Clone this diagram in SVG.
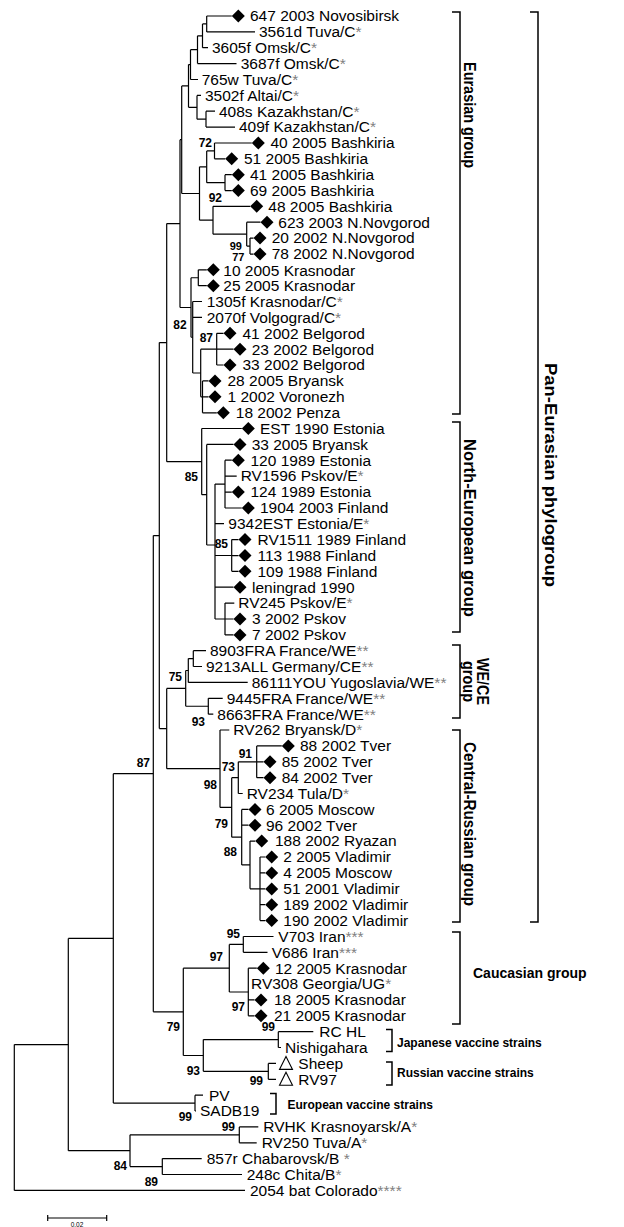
<svg xmlns="http://www.w3.org/2000/svg" xmlns:xlink="http://www.w3.org/1999/xlink" width="624" height="1227" viewBox="0 0 624 1227">
<style>
text{font-family:"Liberation Sans",Arial,sans-serif;fill:#000}
.t{font-size:15.5px}
.s{fill:#808080}
.b{font-size:12px;font-weight:bold;text-anchor:end}
.bs{font-size:11px}
.g{font-size:17px;font-weight:bold}
.v{font-size:12px;font-weight:bold}
.e{fill:none;stroke:#000;stroke-width:1.2}
.br{fill:none;stroke:#000;stroke-width:1.5}
</style>
<defs>
<path id="dia" d="M0,-6.5L6.5,0L0,6.5L-6.5,0Z" fill="#000"/>
<path id="tri" d="M0,-7L6.5,6L-6.5,6Z" fill="none" stroke="#000" stroke-width="1.1"/>
</defs>
<rect width="624" height="1227" fill="#fff"/>
<g id="connectors" class="e">
<path d="M14.3,1044.55V1190.4M14.3,1044.55H68.3M14.3,1190.4H245"/>
<path d="M68.3,938.4V1150.7M68.3,938.4H113.3M68.3,1150.7H130"/>
<path d="M113.3,773.7V1103.1M113.3,773.7H153.3M113.3,1103.1H195"/>
<path d="M195,1095.2V1111M195,1095.2H203M195,1111H196"/>
<path d="M130,1134.85V1166.55M130,1134.85H239.3M130,1166.55H162.3"/>
<path d="M239.3,1126.9V1142.8M239.3,1126.9H258.3M239.3,1142.8H256.7"/>
<path d="M162.3,1158.6V1174.5M162.3,1158.6H201.7M162.3,1174.5H242"/>
<path d="M153.3,535.6V1011.85M153.3,535.6H159.3M153.3,1011.85H183.3"/>
<path d="M183.3,968.2V1055.5M183.3,968.2H229.3M183.3,1055.5H203.3"/>
<path d="M229.3,944.4V992M229.3,944.4H243.3M229.3,992H248.3"/>
<path d="M243.3,936.5V952.3M243.3,936.5H273.5M243.3,952.3H267.5"/>
<path d="M248.3,968.2V1015.8M248.3,968.2H256.8M248.3,999.9H254.5M248.3,1015.8H254.5"/>
<path d="M203.3,1039.6V1071.35M203.3,1039.6H278.3M203.3,1071.35H268.3"/>
<path d="M278.3,1031.7V1047.5M278.3,1031.7H313.3M278.3,1047.5H281"/>
<path d="M268.3,1063.4V1079.3M268.3,1063.4H276M268.3,1079.3H276"/>
<path d="M159.3,342.6V728.6M159.3,342.6H166.7M159.3,728.6H166.7"/>
<path d="M166.7,223.6V461.65M166.7,223.6H180M166.7,461.65H201.7"/>
<path d="M180,139.7V307.5M180,139.7H181.7M180,307.5H191"/>
<path d="M181.7,85.95V193.5M181.7,85.95H188.5M181.7,193.5H199.5"/>
<path d="M188.5,64.6V107.3M188.5,64.6H190.5M188.5,107.3H197"/>
<path d="M190.5,49.7V79.5M190.5,49.7H197.5M190.5,79.5H198"/>
<path d="M197.5,35.8V63.6M197.5,35.8H202.5M197.5,63.6H236.5"/>
<path d="M202.5,23.95V47.7M202.5,23.95H206.7M202.5,47.7H208"/>
<path d="M206.7,16V31.9M206.7,16H231.8M206.7,31.9H255"/>
<path d="M197,95.4V119.15M197,95.4H201M197,119.15H206"/>
<path d="M206,111.2V127.1M206,111.2H215M206,127.1H235"/>
<path d="M199.5,166.8V220.2M199.5,166.8H206.7M199.5,220.2H213"/>
<path d="M206.7,150.9V182.65M206.7,150.9H214.5M206.7,182.65H225"/>
<path d="M214.5,143V158.8M214.5,143H251.8M214.5,158.8H225.2"/>
<path d="M225,174.7V190.6M225,174.7H231.8M225,190.6H231.8"/>
<path d="M213,206.3V234.15M213,206.3H250.2M213,234.15H246.7"/>
<path d="M246.7,222.2V246.1M246.7,222.2H260.5M246.7,246.1H250"/>
<path d="M250,238.1V254.1M250,238.1H253.5M250,254.1H253.5"/>
<path d="M191,277.75V337.25M191,277.75H198.3M191,337.25H192.7"/>
<path d="M198.3,269.8V285.7M198.3,269.8H206.8M198.3,285.7H206.8"/>
<path d="M192.7,301.5V373M192.7,301.5H202M192.7,317.4H202M192.7,373H200.7"/>
<path d="M200.7,349.15V396.85M200.7,349.15H216.7M200.7,396.85H202.5"/>
<path d="M216.7,333.3V365M216.7,333.3H223.5M216.7,349.2H233.5M216.7,365H223.5"/>
<path d="M202.5,380.9V412.8M202.5,380.9H208.5M202.5,396.8H208.5M202.5,412.8H216.8"/>
<path d="M201.7,428.5V494.7M201.7,428.5H241.8M201.7,494.7H206.7"/>
<path d="M206.7,444.4V545M206.7,444.4H233.5M206.7,545H215"/>
<path d="M215,484.1V619M215,484.1H225M215,523.7H224M215,555.5H231.7M215,587.2H233.5M215,619H225"/>
<path d="M225,460.2V508M225,460.2H231.8M225,476.1H236.7M225,492.1H231.8M225,508H241.8"/>
<path d="M231.7,539.6V571.3M231.7,539.6H238.5M231.7,555.6H238.5M231.7,571.3H238.5"/>
<path d="M225,603.1V634.9M225,603.1H234.3M225,619H233.5M225,634.9H233.5"/>
<path d="M166.7,688.4V768.7M166.7,688.4H185.7M166.7,768.7H220"/>
<path d="M185.7,670.5V706.25M185.7,670.5H188.3M185.7,706.25H208.3"/>
<path d="M188.3,658.6V682.4M188.3,658.6H193.3M188.3,682.4H247.7"/>
<path d="M193.3,650.7V666.5M193.3,650.7H206M193.3,666.5H202"/>
<path d="M208.3,698.3V714.2M208.3,698.3H222.7M208.3,714.2H213.3"/>
<path d="M220,730V807.4M220,730H229.3M220,807.4H231.7"/>
<path d="M231.7,777.65V837.2M231.7,777.65H238.3M231.7,837.2H241.7"/>
<path d="M238.3,761.8V793.5M238.3,761.8H256.7M238.3,793.5H242.7"/>
<path d="M256.7,745.9V777.7M256.7,745.9H281.8M256.7,761.8H263.5M256.7,777.7H263.5"/>
<path d="M241.7,809.4V864.95M241.7,809.4H248.5M241.7,825.2H248.5M241.7,864.95H250"/>
<path d="M250,841.1V888.8M250,841.1H255.2M250,888.8H260"/>
<path d="M260,857V920.6M260,857H265.2M260,872.9H265.2M260,888.9H265.2M260,904.7H265.2M260,920.6H265.2"/>
</g>
<g id="leaves" class="t">
<g id="n647"><use href="#dia" x="238.3" y="16"/><text class="t" x="250" y="21.3">647 2003 Novosibirsk</text></g>
<g id="n3561d"><text class="t" x="259" y="37.2">3561d Tuva/C<tspan class="s">*</tspan></text></g>
<g id="n3605f"><text class="t" x="212" y="53">3605f Omsk/C<tspan class="s">*</tspan></text></g>
<g id="n3687f"><text class="t" x="240.7" y="68.9">3687f Omsk/C<tspan class="s">*</tspan></text></g>
<g id="n765w"><text class="t" x="201.7" y="84.8">765w Tuva/C<tspan class="s">*</tspan></text></g>
<g id="n3502f"><text class="t" x="205" y="100.7">3502f Altai/C<tspan class="s">*</tspan></text></g>
<g id="n408s"><text class="t" x="219" y="116.5">408s Kazakhstan/C<tspan class="s">*</tspan></text></g>
<g id="n409f"><text class="t" x="239" y="132.4">409f Kazakhstan/C<tspan class="s">*</tspan></text></g>
<g id="n40b"><use href="#dia" x="258.3" y="143"/><text class="t" x="270.5" y="148.3">40 2005 Bashkiria</text></g>
<g id="n51b"><use href="#dia" x="231.7" y="158.8"/><text class="t" x="244" y="164.1">51 2005 Bashkiria</text></g>
<g id="n41b"><use href="#dia" x="238.3" y="174.7"/><text class="t" x="250" y="180">41 2005 Bashkiria</text></g>
<g id="n69b"><use href="#dia" x="238.3" y="190.6"/><text class="t" x="250" y="195.9">69 2005 Bashkiria</text></g>
<g id="n48b"><use href="#dia" x="256.7" y="206.3"/><text class="t" x="268.3" y="211.6">48 2005 Bashkiria</text></g>
<g id="n623"><use href="#dia" x="267" y="222.2"/><text class="t" x="278.3" y="227.5">623 2003 N.Novgorod</text></g>
<g id="n20nn"><use href="#dia" x="260" y="238.1"/><text class="t" x="271.7" y="243.4">20 2002 N.Novgorod</text></g>
<g id="n78nn"><use href="#dia" x="260" y="254.1"/><text class="t" x="271.7" y="259.4">78 2002 N.Novgorod</text></g>
<g id="n10k"><use href="#dia" x="213.3" y="269.8"/><text class="t" x="223.3" y="275.6">10 2005 Krasnodar</text></g>
<g id="n25k"><use href="#dia" x="213.3" y="285.7"/><text class="t" x="223.3" y="291">25 2005 Krasnodar</text></g>
<g id="n1305f"><text class="t" x="206.7" y="306.8">1305f Krasnodar/C<tspan class="s">*</tspan></text></g>
<g id="n2070f"><text class="t" x="206.7" y="322.7">2070f Volgograd/C<tspan class="s">*</tspan></text></g>
<g id="n41bel"><use href="#dia" x="230" y="333.3"/><text class="t" x="242.5" y="338.6">41 2002 Belgorod</text></g>
<g id="n23bel"><use href="#dia" x="240" y="349.2"/><text class="t" x="251.7" y="354.5">23 2002 Belgorod</text></g>
<g id="n33bel"><use href="#dia" x="230" y="365"/><text class="t" x="242.5" y="370.3">33 2002 Belgorod</text></g>
<g id="n28br"><use href="#dia" x="215" y="380.9"/><text class="t" x="227.5" y="386.2">28 2005 Bryansk</text></g>
<g id="n1vor"><use href="#dia" x="215" y="396.8"/><text class="t" x="227.5" y="402.1">1 2002 Voronezh</text></g>
<g id="n18pen"><use href="#dia" x="223.3" y="412.8"/><text class="t" x="235.8" y="418.1">18 2002 Penza</text></g>
<g id="nEST"><use href="#dia" x="248.3" y="428.5"/><text class="t" x="260" y="433.8">EST 1990 Estonia</text></g>
<g id="n33br"><use href="#dia" x="240" y="444.4"/><text class="t" x="251.7" y="449.7">33 2005 Bryansk</text></g>
<g id="n120e"><use href="#dia" x="238.3" y="460.2"/><text class="t" x="250.5" y="465.5">120 1989 Estonia</text></g>
<g id="nRV1596"><text class="t" x="240.7" y="481.4">RV1596 Pskov/E<tspan class="s">*</tspan></text></g>
<g id="n124e"><use href="#dia" x="238.3" y="492.1"/><text class="t" x="250.5" y="497.4">124 1989 Estonia</text></g>
<g id="n1904"><use href="#dia" x="248.3" y="508"/><text class="t" x="260" y="513.3">1904 2003 Finland</text></g>
<g id="n9342"><text class="t" x="228.3" y="529">9342EST Estonia/E<tspan class="s">*</tspan></text></g>
<g id="nRV1511"><use href="#dia" x="245" y="539.6"/><text class="t" x="257.5" y="544.9">RV1511 1989 Finland</text></g>
<g id="n113f"><use href="#dia" x="245" y="555.6"/><text class="t" x="257.5" y="560.9">113 1988 Finland</text></g>
<g id="n109f"><use href="#dia" x="245" y="571.3"/><text class="t" x="257.5" y="576.6">109 1988 Finland</text></g>
<g id="nlen"><use href="#dia" x="240" y="587.2"/><text class="t" x="252" y="592.5">leningrad 1990</text></g>
<g id="nRV245"><text class="t" x="238.3" y="608.4">RV245 Pskov/E<tspan class="s">*</tspan></text></g>
<g id="n3ps"><use href="#dia" x="240" y="619"/><text class="t" x="252" y="624.3">3 2002 Pskov</text></g>
<g id="n7ps"><use href="#dia" x="240" y="634.9"/><text class="t" x="252" y="640.2">7 2002 Pskov</text></g>
<g id="n8903"><text class="t" x="210" y="656">8903FRA France/WE<tspan class="s">**</tspan></text></g>
<g id="n9213"><text class="t" x="206" y="671.8">9213ALL Germany/CE<tspan class="s">**</tspan></text></g>
<g id="n86111"><text class="t" x="251.7" y="687.7">86111YOU Yugoslavia/WE<tspan class="s">**</tspan></text></g>
<g id="n9445"><text class="t" x="226.7" y="703.6">9445FRA France/WE<tspan class="s">**</tspan></text></g>
<g id="n8663"><text class="t" x="217.3" y="719.5">8663FRA France/WE<tspan class="s">**</tspan></text></g>
<g id="nRV262"><text class="t" x="233.3" y="735.3">RV262 Bryansk/D<tspan class="s">*</tspan></text></g>
<g id="n88t"><use href="#dia" x="288.3" y="745.9"/><text class="t" x="300" y="751.2">88 2002 Tver</text></g>
<g id="n85t"><use href="#dia" x="270" y="761.8"/><text class="t" x="281.7" y="767.1">85 2002 Tver</text></g>
<g id="n84t"><use href="#dia" x="270" y="777.7"/><text class="t" x="281.7" y="783">84 2002 Tver</text></g>
<g id="nRV234"><text class="t" x="246.7" y="798.8">RV234 Tula/D<tspan class="s">*</tspan></text></g>
<g id="n6m"><use href="#dia" x="255" y="809.4"/><text class="t" x="266" y="814.7">6 2005 Moscow</text></g>
<g id="n96t"><use href="#dia" x="255" y="825.2"/><text class="t" x="266" y="830.5">96 2002 Tver</text></g>
<g id="n188r"><use href="#dia" x="261.7" y="841.1"/><text class="t" x="275" y="846.4">188 2002 Ryazan</text></g>
<g id="n2v"><use href="#dia" x="271.7" y="857"/><text class="t" x="283.3" y="862.3">2 2005 Vladimir</text></g>
<g id="n4m"><use href="#dia" x="271.7" y="872.9"/><text class="t" x="283.3" y="878.2">4 2005 Moscow</text></g>
<g id="n51v"><use href="#dia" x="271.7" y="888.9"/><text class="t" x="283.3" y="894.2">51 2001 Vladimir</text></g>
<g id="n189v"><use href="#dia" x="271.7" y="904.7"/><text class="t" x="283.3" y="910">189 2002 Vladimir</text></g>
<g id="n190v"><use href="#dia" x="271.7" y="920.6"/><text class="t" x="283.3" y="925.9">190 2002 Vladimir</text></g>
<g id="nV703"><text class="t" x="278.3" y="941.8">V703 Iran<tspan class="s">***</tspan></text></g>
<g id="nV686"><text class="t" x="271.7" y="957.6">V686 Iran<tspan class="s">***</tspan></text></g>
<g id="n12k"><use href="#dia" x="263.3" y="968.2"/><text class="t" x="275" y="973.5">12 2005 Krasnodar</text></g>
<g id="nRV308"><text class="t" x="251" y="989.4">RV308 Georgia/UG<tspan class="s">*</tspan></text></g>
<g id="n18k"><use href="#dia" x="261" y="999.9"/><text class="t" x="274" y="1005.2">18 2005 Krasnodar</text></g>
<g id="n21k"><use href="#dia" x="261" y="1015.8"/><text class="t" x="274" y="1021.1">21 2005 Krasnodar</text></g>
<g id="nRCHL"><text class="t" x="319.3" y="1037">RC HL</text></g>
<g id="nNish"><text class="t" x="285" y="1052.8">Nishigahara</text></g>
<g id="nSheep"><use href="#tri" x="286" y="1063.4"/><text class="t" x="298.3" y="1068.7">Sheep</text></g>
<g id="nRV97"><use href="#tri" x="286" y="1079.3"/><text class="t" x="298.3" y="1084.6">RV97</text></g>
<g id="nPV"><text class="t" x="209" y="1100.5">PV</text></g>
<g id="nSADB19"><text class="t" x="200" y="1116.3">SADB19</text></g>
<g id="nRVHK"><text class="t" x="263.3" y="1132.2">RVHK Krasnoyarsk/A<tspan class="s">*</tspan></text></g>
<g id="nRV250"><text class="t" x="261.7" y="1148.1">RV250 Tuva/A<tspan class="s">*</tspan></text></g>
<g id="n857r"><text class="t" x="206.7" y="1163.9">857r Chabarovsk/B <tspan class="s">*</tspan></text></g>
<g id="n248c"><text class="t" x="246.7" y="1179.8">248c Chita/B<tspan class="s">*</tspan></text></g>
<g id="n2054"><text class="t" x="250" y="1195.7">2054 bat Colorado<tspan class="s">****</tspan></text></g>
</g>
<g id="bootstrap">
<text class="b" x="212" y="147">72</text>
<text class="b" x="222" y="202">92</text>
<text class="b bs" x="242" y="249.5">99</text>
<text class="b bs" x="244.5" y="261">77</text>
<text class="b" x="186.7" y="329">82</text>
<text class="b" x="213" y="342">87</text>
<text class="b" x="198" y="481">85</text>
<text class="b" x="228" y="548">85</text>
<text class="b" x="182" y="681">75</text>
<text class="b" x="205" y="726">93</text>
<text class="b" x="252" y="758">91</text>
<text class="b" x="235" y="771">73</text>
<text class="b" x="217" y="789">98</text>
<text class="b" x="228" y="828">79</text>
<text class="b" x="237" y="856">88</text>
<text class="b" x="150" y="767">87</text>
<text class="b" x="240" y="938">95</text>
<text class="b" x="223" y="961">97</text>
<text class="b" x="245" y="1011">97</text>
<text class="b" x="275" y="1031">99</text>
<text class="b" x="180" y="1031">79</text>
<text class="b" x="200" y="1075">93</text>
<text class="b" x="263" y="1085">99</text>
<text class="b" x="192" y="1121">99</text>
<text class="b" x="235" y="1131">99</text>
<text class="b" x="127" y="1170">84</text>
<text class="b" x="158" y="1186">89</text>
</g>
<g id="groups">
<g id="g-eurasian"><path class="br" d="M452,12H460V414H452"/><text class="g" transform="translate(464,115) rotate(90)" text-anchor="middle" textLength="106" lengthAdjust="spacingAndGlyphs">Eurasian group</text></g>
<g id="g-north"><path class="br" d="M452,422H460V632H452"/><text class="g" transform="translate(464,528) rotate(90)" text-anchor="middle" textLength="178" lengthAdjust="spacingAndGlyphs">North-European group</text></g>
<g id="g-wece"><path class="br" d="M452,645H460V718H452"/><text class="g" transform="translate(477,681.5) rotate(90)" text-anchor="middle" textLength="47" lengthAdjust="spacingAndGlyphs">WE/CE</text><text class="g" transform="translate(463,681.5) rotate(90)" text-anchor="middle" textLength="41" lengthAdjust="spacingAndGlyphs">group</text></g>
<g id="g-central"><path class="br" d="M452,730H460V922H452"/><text class="g" transform="translate(464,824) rotate(90)" text-anchor="middle" textLength="164" lengthAdjust="spacingAndGlyphs">Central-Russian group</text></g>
<g id="g-pan"><path class="br" d="M530,12H538V922H530"/><text class="g" transform="translate(545,475) rotate(90)" text-anchor="middle" textLength="224" lengthAdjust="spacingAndGlyphs">Pan-Eurasian phylogroup</text></g>
<g id="g-cauc"><path class="br" d="M452,932H460V1024H452"/><text x="473" y="978" style="font-size:14px;font-weight:bold">Caucasian group</text></g>
<g id="g-jap"><path class="br" d="M386,1029.5H392V1051.5H386"/><text class="v" x="397" y="1046.5">Japanese vaccine strains</text></g>
<g id="g-rus"><path class="br" d="M386,1062H392V1085H386"/><text class="v" x="397" y="1077">Russian vaccine strains</text></g>
<g id="g-eur"><path class="br" d="M270,1093.5H276V1114H270"/><text class="v" x="287.5" y="1109">European vaccine strains</text></g>
</g>
<g id="scale">
<path class="e" d="M47.7,1218H106.7M47.7,1215V1221M106.7,1215V1221"/>
<text x="77" y="1226.5" text-anchor="middle" style="font-size:6.5px">0.02</text>
</g>
</svg>
